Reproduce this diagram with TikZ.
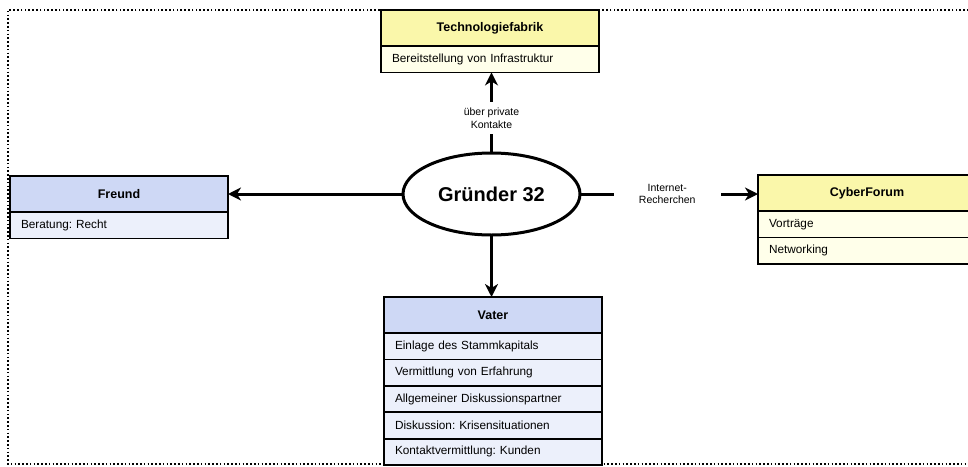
\documentclass[tikz,border=0pt]{standalone}
\usepackage{fontspec}
\setmainfont{Liberation Sans}
\usetikzlibrary{arrows.meta,shapes.geometric}
\definecolor{yhead}{RGB}{250,247,170}
\definecolor{yrow}{RGB}{255,255,234}
\definecolor{bhead}{RGB}{206,216,245}
\definecolor{brow}{RGB}{236,240,251}
\frenchspacing
\tikzset{
  hdr/.style={draw=black, line width=1.8pt, anchor=north west, minimum width=218pt,
    minimum height=36pt, inner sep=0pt, outer sep=0pt, font=\fontsize{12.5}{15}\selectfont\bfseries},
  rowbox/.style={draw=black, line width=1.8pt, anchor=north west, text width=196pt,
    inner xsep=11pt, inner ysep=0pt, outer sep=0pt, minimum height=26.4pt, align=left,
    font=\fontsize{11.8}{14}\selectfont},
  yh/.style={hdr, fill=yhead}, yr/.style={rowbox, fill=yrow},
  bh/.style={hdr, fill=bhead}, br/.style={rowbox, fill=brow},
  conn/.style={line width=3pt, -{Stealth[length=13pt,width=13pt,inset=4pt]}},
  lbl/.style={fill=white, align=center, inner ysep=6pt, font=\fontsize{10.5}{12.5}\selectfont},
  frame/.style={line width=1.6pt, dash pattern=on 1.6pt off 2.2pt}
}
\begin{document}
\begin{tikzpicture}[x=1pt,y=-1pt]
\useasboundingbox (0,0) rectangle (968,466);
\clip (0,0) rectangle (968,466);
\fill[white] (0,0) rectangle (968,466);
\draw[frame] (980,10) -- (8,10) -- (8,464) -- (980,464);

% Technologiefabrik
\node[yh] (tf) at (381,10) {Technologiefabrik};
\node[yr] (tf1) at (tf.south west) {Bereitstellung von Infrastruktur};

% Freund
\node[bh] (fr) at (10,176) {Freund};
\node[br] (fr1) at (fr.south west) {Beratung: Recht};

% CyberForum
\node[yh] (cf) at (758,175) {CyberForum};
\node[yr] (cf1) at (cf.south west) {Vorträge};
\node[yr] (cf2) at (cf1.south west) {Networking};

% Vater
\node[bh] (va) at (384,297) {Vater};
\node[br] (va1) at (va.south west) {Einlage des Stammkapitals};
\node[br] (va2) at (va1.south west) {Vermittlung von Erfahrung};
\node[br] (va3) at (va2.south west) {Allgemeiner Diskussionspartner};
\node[br] (va4) at (va3.south west) {Diskussion: Krisensituationen};
\node[br] (va5) at (va4.south west) {Kontaktvermittlung: Kunden};

% Gruender
\node[draw, ellipse, line width=3pt, fill=white, minimum width=177pt, minimum height=82pt,
  inner sep=0pt, outer sep=0pt, font=\fontsize{20}{24}\selectfont\bfseries] (g) at (491.5,194) {Gründer 32};

% connectors
\draw[conn] (g.north) -- (g.north |- tf1.south)
  node[lbl, pos=0.43] (l1) {über private\\Kontakte};
\draw[conn] (g.west) -- (g.west -| fr.east);
\draw[conn] (g.east) -- (g.east -| cf.west)
  node[lbl, pos=0.49, inner xsep=25pt, inner ysep=3pt] (l2) {Internet-\\Recherchen};
\draw[conn] (g.south) -- (g.south |- va.north);
\end{tikzpicture}
\end{document}
